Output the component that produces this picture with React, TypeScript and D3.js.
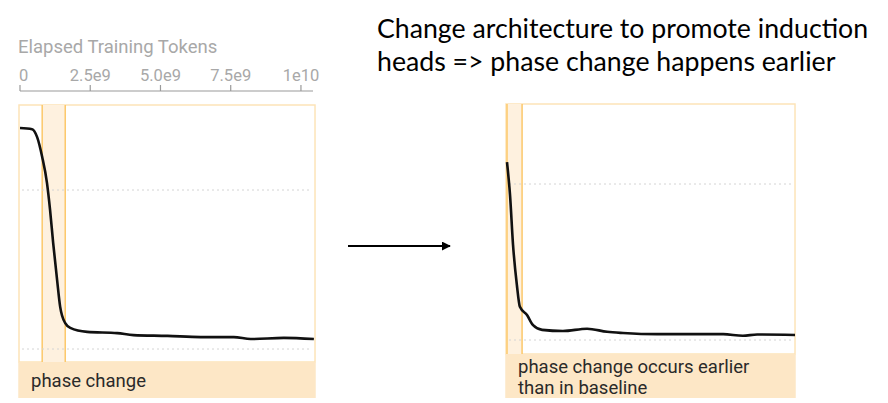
import React from "react";
import * as d3 from "d3";

// Baseline run (left)
const baseTokens = [0, 0.43e9, 0.61e9, 0.79e9, 0.96e9, 1.07e9, 1.18e9, 1.32e9, 1.43e9, 1.61e9, 1.79e9, 2.39e9, 3.46e9, 4.04e9, 5.25e9, 6.43e9, 7.61e9, 8.21e9, 9.39e9, 10.46e9];
const baseLoss = [7.56, 7.53, 7.33, 6.83, 6.18, 5.5, 4.67, 3.74, 3.06, 2.65, 2.53, 2.43, 2.4, 2.35, 2.33, 2.3, 2.3, 2.25, 2.28, 2.25];
const baseBand = [0.79e9, 1.61e9];

// Modified architecture run (right)
const modTokens = [0, 0.11e9, 0.22e9, 0.36e9, 0.47e9, 0.73e9, 0.95e9, 1.28e9, 2.04e9, 2.92e9, 3.65e9, 4.23e9, 5.47e9, 6.67e9, 7.88e9, 8.6e9, 9.12e9, 10.5e9];
const modLoss = [6.56, 5.72, 4.44, 3.41, 2.85, 2.64, 2.38, 2.26, 2.23, 2.29, 2.21, 2.18, 2.15, 2.15, 2.15, 2.11, 2.14, 2.13];
const modBand = [0, 0.55e9];

const xTicks = [0, 2.5e9, 5e9, 7.5e9, 1e10];
const xTickLabels = ["0", "2.5e9", "5.0e9", "7.5e9", "1e10"];
const gridValues = [6, 2];
const xDomain: [number, number] = [0, 10.5e9];

const titleLines = ["Change architecture to promote induction", "heads => phase change happens earlier"];
const baseLabel = ["phase change"];
const modLabel = ["phase change occurs earlier", "than in baseline"];

const BORDER = "#fde4b8";
const BAND_LINE = "#fcc86a";
const BAND_FILL = "#fef1df";
const LABEL_FILL = "#fde7c6";

type PanelProps = {
  left: number; right: number; top: number; plotBottom: number; labelBottom: number;
  yGridTop: number; yGridBottom: number;
  tokens: number[]; loss: number[]; band: number[]; label: string[]; labelBaseline: number;
};

function Panel(p: PanelProps) {
  const x = d3.scaleLinear().domain(xDomain).range([p.left + 1, p.right]);
  const y = d3.scaleLinear().domain([gridValues[0], gridValues[1]]).range([p.yGridTop, p.yGridBottom]);
  const line = d3.line<number>().x((_, i) => x(p.tokens[i])).y((d) => y(d)).curve(d3.curveMonotoneX);
  const bx0 = Math.max(x(p.band[0]), p.left);
  const bx1 = x(p.band[1]);
  return (
    <g>
      <rect x={p.left} y={p.top} width={p.right - p.left} height={p.plotBottom - p.top} fill="#fff" stroke={BORDER} strokeWidth={1.5} />
      <rect x={bx0} y={p.top} width={bx1 - bx0} height={p.plotBottom - p.top} fill={BAND_FILL} />
      <line x1={bx0} x2={bx0} y1={p.top} y2={p.plotBottom} stroke={BAND_LINE} strokeWidth={1.5} />
      <line x1={bx1} x2={bx1} y1={p.top} y2={p.plotBottom} stroke={BAND_LINE} strokeWidth={1.5} />
      {gridValues.map((g) => (
        <line key={g} x1={p.left + 3} x2={p.right - 3} y1={y(g)} y2={y(g)} stroke="#d4d4d4" strokeWidth={1} strokeDasharray="2,3" />
      ))}
      <path d={line(p.loss) || ""} fill="none" stroke="#111" strokeWidth={2.6} strokeLinejoin="round" />
      <rect x={p.left - 0.75} y={p.plotBottom} width={p.right - p.left + 1.5} height={p.labelBottom - p.plotBottom} fill={LABEL_FILL} />
      {p.label.map((t, i) => (
        <text key={i} x={p.left + 12} y={p.labelBaseline + i * 21} fontFamily="Roboto, sans-serif" fontSize={18.5} fill="#2a2a2a">{t}</text>
      ))}
    </g>
  );
}

export default function App() {
  const axisX = d3.scaleLinear().domain(xDomain).range([20, 315]);
  const axisY = 91;
  return (
    <svg width={888} height={403} style={{ position: "absolute", left: 0, top: 0 }}>
      <rect width={888} height={403} fill="#fff" />
      <text x={18} y={53} fontFamily="Roboto, sans-serif" fontSize={18.5} fill="#a8a8a8">Elapsed Training Tokens</text>
      <line x1={20} x2={313} y1={axisY} y2={axisY} stroke="#9a9a9a" strokeWidth={1.2} />
      {xTicks.map((t, i) => (
        <g key={t}>
          <line x1={axisX(t)} x2={axisX(t)} y1={axisY} y2={axisY - 6} stroke="#9a9a9a" strokeWidth={1.2} />
          <text x={axisX(t)} y={81} textAnchor={i === 0 ? "start" : "middle"} dx={i === 0 ? -1 : 0} fontFamily="Roboto, sans-serif" fontSize={16.5} fill="#a8a8a8">{xTickLabels[i]}</text>
        </g>
      ))}
      <Panel left={19} right={315} top={105} plotBottom={362} labelBottom={398} yGridTop={190} yGridBottom={349}
        tokens={baseTokens} loss={baseLoss} band={baseBand} label={baseLabel} labelBaseline={387} />
      <Panel left={506} right={795} top={104} plotBottom={354} labelBottom={398} yGridTop={184} yGridBottom={340}
        tokens={modTokens} loss={modLoss} band={modBand} label={modLabel} labelBaseline={373} />
      <defs>
        <marker id="arr" viewBox="0 0 10 10" refX="9" refY="5" markerWidth="5" markerHeight="5" orient="auto">
          <path d="M0,0 L10,5 L0,10 z" fill="#000" />
        </marker>
      </defs>
      <line x1={348} x2={450} y1={246} y2={246} stroke="#000" strokeWidth={1.8} markerEnd="url(#arr)" />
      {titleLines.map((t, i) => (
        <text key={i} x={377} y={38 + i * 33} fontFamily="Lato, 'Open Sans', sans-serif" fontSize={26.7} fill="#000">{t}</text>
      ))}
    </svg>
  );
}
